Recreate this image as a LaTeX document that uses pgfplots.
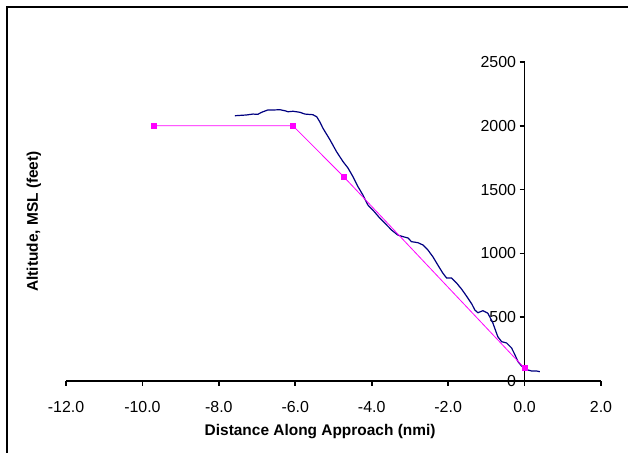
\documentclass[border=0pt]{standalone}
\usepackage{fontspec}
\setmainfont{Liberation Sans}
\usepackage{pgfplots}
\pgfplotsset{compat=1.18}
\definecolor{track}{RGB}{0,0,128}
\definecolor{profile}{RGB}{255,0,255}
\begin{document}
\begin{tikzpicture}
\begin{axis}[
    scale only axis,
    width=535bp, height=319bp,
    xmin=-12, xmax=2, ymin=0, ymax=2500,
    axis x line=bottom, axis y line=center,
    axis line style={-, line width=1.6bp},
    xtick={-12,-10,...,2}, ytick={0,500,...,2500},
    xtick align=outside, ytick align=outside,
    hide obscured x ticks=false, hide obscured y ticks=false,
    tick style={black, line width=1.6bp},
    major tick length=5bp,
    minor tick num=0,
    /pgf/number format/assume math mode=true,
    x tick label style={/pgf/number format/.cd, fixed, fixed zerofill, precision=1},
    y tick label style={/pgf/number format/1000 sep={}},
    ticklabel style={font=\fontsize{16}{18}\selectfont},
    xticklabel shift=12bp,
    xlabel={Distance Along Approach (nmi)},
    ylabel={Altitude, MSL (feet)},
    every axis x label/.style={at={(rel axis cs:0.475,-0.16)}, anchor=center, font=\bfseries\fontsize{15.5}{18}\selectfont},
    every axis y label/.style={at={(rel axis cs:-0.06,0.5)}, rotate=90, anchor=center, font=\bfseries\fontsize{15.5}{18}\selectfont},
    clip=false,
]
% flight track
\addplot[track, line width=1.2bp] coordinates {
(-7.58,2079) (-7.27,2085) (-7.11,2092) (-6.98,2090) (-6.88,2106) (-6.72,2124)
(-6.58,2124) (-6.40,2126) (-6.27,2118) (-6.19,2110) (-6.06,2114) (-5.88,2106)
(-5.75,2092) (-5.67,2090) (-5.54,2087) (-5.44,2071) (-5.36,2032) (-5.28,1983)
(-5.09,1889) (-4.92,1797) (-4.75,1719) (-4.62,1669) (-4.49,1601) (-4.36,1523)
(-4.23,1458) (-4.10,1379) (-3.97,1340) (-3.79,1277) (-3.61,1223) (-3.48,1183)
(-3.32,1144) (-3.18,1131) (-3.05,1121) (-2.96,1092) (-2.79,1084) (-2.66,1066)
(-2.53,1027) (-2.40,974) (-2.27,909) (-2.14,846) (-2.04,807) (-1.91,807)
(-1.78,768) (-1.65,721) (-1.52,666) (-1.38,603) (-1.30,556) (-1.22,535)
(-1.09,551) (-0.96,531) (-0.83,455) (-0.70,347) (-0.60,308) (-0.47,298)
(-0.34,259) (-0.25,204) (-0.17,151) (-0.08,118) (0.01,100) (0.09,86)
(0.19,78) (0.32,78) (0.40,73)
};
% published approach profile
\addplot[profile, line width=0.8bp, mark=square*, mark size=2.5bp] coordinates {
(-9.70,2000) (-6.06,2000) (-4.73,1600) (0.00,100)
};
\draw[line width=2bp] (rel axis cs:-0.1103,-0.2257) |- (rel axis cs:1.0505,1.1724);
\coordinate (bl) at (rel axis cs:-0.1234,-0.2257);
\coordinate (tr) at (rel axis cs:1.0505,1.1944);
\end{axis}
\pgfresetboundingbox
\path (bl) rectangle (tr);
\end{tikzpicture}
\end{document}
